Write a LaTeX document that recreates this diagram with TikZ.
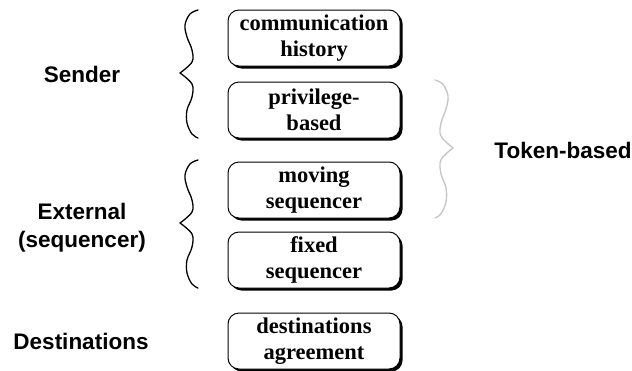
\documentclass[tikz,border=0pt]{standalone}
\usepackage{fontspec}
\setmainfont{Liberation Serif}
\newfontfamily\hv{Liberation Sans}
\usetikzlibrary{calc}
\begin{document}
\begin{tikzpicture}[x=1pt,y=-1pt,
  boxnode/.style={draw=black, line width=1pt, fill=white, rounded corners=11pt,
    minimum width=172pt, minimum height=56pt, align=center,
    font=\fontsize{22.5}{25.5}\selectfont\bfseries, inner sep=0pt},
  lbl/.style={font=\hv\fontsize{22.5}{28}\selectfont\bfseries, align=center},
  curly/.pic={
    \draw[line cap=round, line join=round] plot[smooth, tension=0.6] coordinates {(0,0) (-8,4) (-13,15) (-11,27) (-6,40) (-6,52) (-18,63)};
    \draw[line cap=round, line join=round] plot[smooth, tension=0.6] coordinates {(-18,63) (-6,74) (-6,87) (-11,100) (-11,113) (-6,124) (0,128)};
  }
]
\useasboundingbox (0,0) rectangle (632,370);
\foreach \n/\y/\t in {b1/38/{communication\\history}, b2/110/{privilege-\\based}, b3/190/{moving\\sequencer}, b4/260/{fixed\\sequencer}, b5/341/{destinations\\agreement}}{
  \fill[black, rounded corners=11pt] (228+2.5,\y-28+2.5) rectangle (400+2.5,\y+28+2.5);
  \node[boxnode] (\n) at (314,\y) {\t};
}
\coordinate (s1) at (198,10);
\coordinate (s2) at (198,160);
\coordinate (t1) at (435,80);
\pic[line width=1.3pt] at (s1) {curly};
\pic[line width=1.3pt] at (s2) {curly};
\pic[line width=1.4pt, draw=black!22, xscale=-1, yscale=138/128] at (t1) {curly};
\node[lbl] (sender) at (82,74) {Sender};
\node[lbl] (ext) at (82,228) {External\\(sequencer)};
\node[lbl] (dest) at (81,341) {Destinations};
\node[lbl] (token) at (563,150) {Token-based};
\end{tikzpicture}
\end{document}
